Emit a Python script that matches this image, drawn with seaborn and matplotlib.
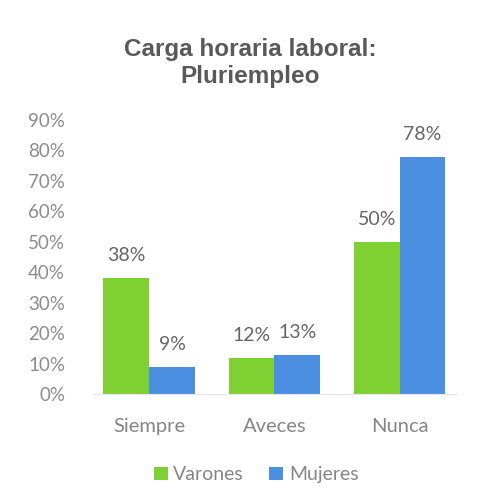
import pandas as pd
import seaborn as sns
import matplotlib.pyplot as plt

categorias = ["Siempre", "Aveces", "Nunca"]
varones = [0.38, 0.12, 0.50]
mujeres = [0.09, 0.13, 0.78]
yticks = [0, 0.1, 0.2, 0.3, 0.4, 0.5, 0.6, 0.7, 0.8, 0.9]

df = pd.DataFrame({
    "categoria": categorias * 2,
    "valor": varones + mujeres,
    "sexo": ["Varones"] * 3 + ["Mujeres"] * 3,
})

sns.set_style("white")
plt.rcParams['font.family'] = ['Lato', 'DejaVu Sans']

fig = plt.figure(figsize=(4.86, 5.04), dpi=100)
ax = fig.add_axes([0.191, 0.218, 0.747, 0.544])

sns.barplot(data=df, x="categoria", y="valor", hue="sexo", ax=ax,
            palette={"Varones": "#7fd133", "Mujeres": "#4b8fe0"},
            width=0.73, saturation=1, edgecolor="none")

# etiquetas de valor sobre cada barra
for cont in ax.containers:
    for bar in cont:
        h = bar.get_height()
        ax.annotate(f"{h*100:.0f}%", (bar.get_x() + bar.get_width() / 2, h),
                    xytext=(0, 10), textcoords="offset points",
                    ha="center", va="bottom", fontsize=14, color="#666666")

ax.set_ylim(0, 0.9)
ax.set_xlim(-0.45, 2.45)
ax.set_yticks(yticks)
ax.set_yticklabels([f"{t*100:.0f}%" for t in yticks])
ax.tick_params(axis="y", length=0, pad=20, labelsize=13.5, labelcolor="#8c8c8c")
ax.tick_params(axis="x", length=0, pad=17, labelsize=14.5, labelcolor="#858585")
ax.set_xlabel("")
ax.set_ylabel("")
for s in ["top", "right", "left"]:
    ax.spines[s].set_visible(False)
ax.spines["bottom"].set_color("#e6e6e6")

fig.text(0.515, 0.875, "Carga horaria laboral:\nPluriempleo", ha="center",
         va="center", fontsize=17.5, fontweight="bold", color="#595959",
         family=["Liberation Sans", "DejaVu Sans"], linespacing=1.25)

ax.legend(loc="upper center", bbox_to_anchor=(0.45, -0.2), ncol=2,
          frameon=False, fontsize=14, handlelength=0.7, handleheight=0.7,
          handletextpad=0.3, columnspacing=1.3, labelcolor="#858585")

fig.savefig("out.png", dpi=100, facecolor="white")
